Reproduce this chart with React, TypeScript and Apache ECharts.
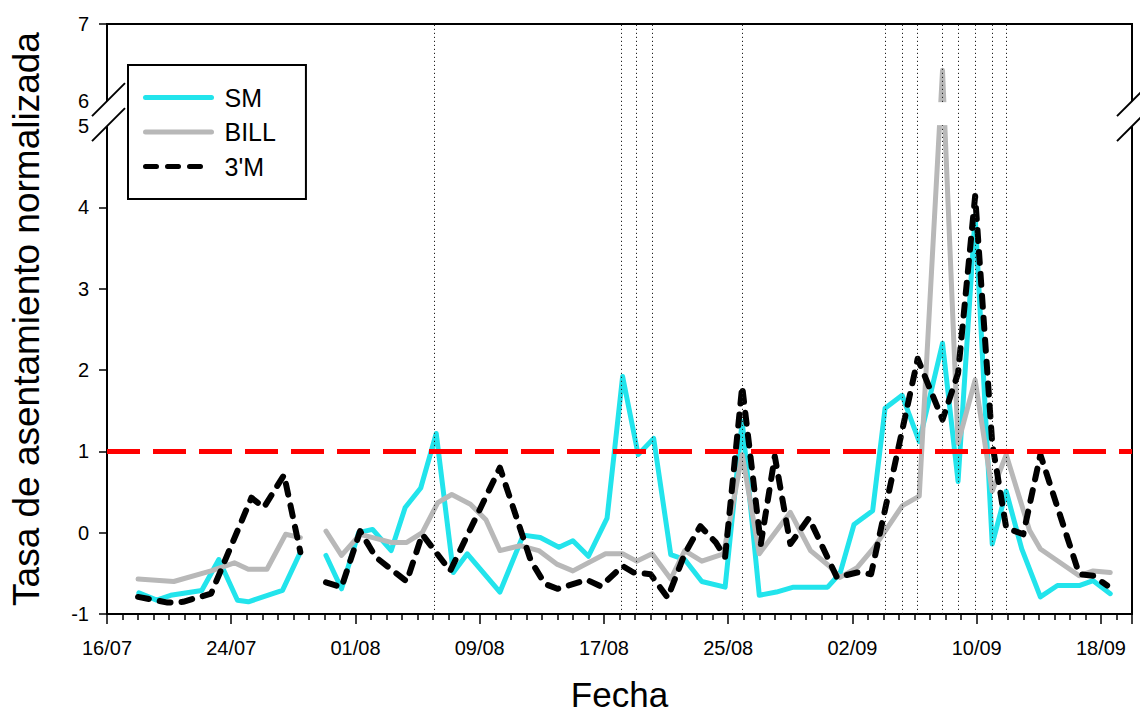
import React, { useEffect, useRef } from "react";
import * as echarts from "echarts";

// ---- data (day 0 = 16/07) ----
const xTickDays = [0, 8, 16, 24, 32, 40, 48, 56, 64];
const xTickLabels = ["16/07", "24/07", "01/08", "09/08", "17/08", "25/08", "02/09", "10/09", "18/09"];
const yTickValues = [-1, 0, 1, 2, 3, 4, 5, 6, 7];
const eventDays = [21.1, 33.1, 34.1, 35.1, 40.9, 50.1, 51.2, 52.2, 53.8, 54.8, 55.9, 57.0, 57.9];
const threshold = 1;

const smData: [number, number | null][] = [
  [2.05, -0.74], [3.2, -0.83], [4.1, -0.77], [6.1, -0.71], [7.2, -0.33], [8.4, -0.83], [9.1, -0.85],
  [11.3, -0.71], [12.45, -0.24], [13.2, null],
  [14.1, -0.28], [15.1, -0.69], [16.2, 0.0], [17.1, 0.04], [18.3, -0.22], [19.2, 0.31], [20.2, 0.55],
  [21.2, 1.22], [22.3, -0.49], [23.2, -0.26], [25.3, -0.73], [26.8, -0.03], [27.9, -0.06], [29.1, -0.18],
  [30.0, -0.1], [31.0, -0.29], [32.2, 0.18], [33.2, 1.92], [34.2, 0.96], [35.2, 1.16], [36.3, -0.27],
  [37.2, -0.33], [38.3, -0.6], [39.8, -0.67], [40.9, 1.37], [42.0, -0.77], [43.1, -0.73], [44.2, -0.67],
  [45.5, -0.67], [46.4, -0.67], [47.2, -0.5], [48.1, 0.1], [49.3, 0.27], [50.1, 1.53], [51.2, 1.69],
  [52.3, 1.12], [53.8, 2.33], [54.8, 0.63], [55.9, 3.9], [57.0, -0.14], [57.9, 0.51], [58.9, -0.2],
  [60.1, -0.79], [61.2, -0.65], [62.6, -0.65], [63.5, -0.59], [64.6, -0.75],
];

const billData: [number, number | null][] = [
  [2, -0.57], [4.3, -0.6], [6.7, -0.47], [8.2, -0.37], [9.1, -0.45], [10.3, -0.45], [11.5, -0.02],
  [12.45, -0.06], [13.2, null],
  [14.1, 0.02], [15.1, -0.28], [16.3, -0.02], [18.3, -0.12], [19.3, -0.12], [20.3, 0.0], [21.3, 0.37],
  [22.2, 0.47], [23.4, 0.35], [24.4, 0.16], [25.3, -0.22], [26.6, -0.16], [27.8, -0.22], [29.0, -0.39],
  [30.0, -0.47], [32.1, -0.26], [33.2, -0.26], [34.1, -0.35], [35.1, -0.26], [36.3, -0.57], [37.2, -0.22],
  [38.3, -0.35], [39.7, -0.26], [40.9, 0.96], [42.0, -0.26], [44.0, 0.25], [45.3, -0.22], [46.5, -0.41],
  [47.2, -0.55], [48.3, -0.43], [49.4, -0.18], [51.2, 0.33], [52.3, 0.45], [53.8, 6.4], [54.8, 1.1],
  [55.9, 1.88], [57.0, 0.51], [57.9, 0.96], [59.4, 0.03], [60.1, -0.2], [62.6, -0.53], [63.5, -0.47],
  [64.6, -0.49],
];

const tmData: [number, number | null][] = [
  [2, -0.79], [3.1, -0.83], [3.9, -0.86], [4.9, -0.85], [6.7, -0.75], [9.3, 0.43], [10.1, 0.31],
  [11.4, 0.71], [12.45, -0.24], [13.2, null],
  [14.1, -0.61], [15.1, -0.67], [16.3, 0.02], [17.3, -0.3], [18.3, -0.45], [19.3, -0.6], [20.3, -0.02],
  [22.1, -0.47], [25.3, 0.8], [27.3, -0.35], [28.2, -0.63], [29.0, -0.69], [30.9, -0.58], [31.8, -0.66],
  [33.2, -0.41], [33.9, -0.49], [35.0, -0.51], [36.1, -0.8], [37.2, -0.26], [38.2, 0.08], [39.2, -0.12],
  [39.8, -0.3], [40.9, 1.8], [42.1, -0.14], [43.0, 0.94], [44.0, -0.14], [45.2, 0.18], [47.0, -0.55],
  [48.3, -0.49], [49.2, -0.51], [52.2, 2.14], [53.8, 1.39], [54.8, 1.96], [55.9, 4.14], [57.0, 1.1],
  [57.9, 0.06], [59.0, -0.02], [60.1, 0.96], [62.6, -0.51], [63.5, -0.53], [64.4, -0.65],
];

// ---- broken y axis (5 .. 6 compressed) ----
const BREAK_LO = 5;
const BREAK_HI = 6;
const T6 = 5.307;
const K_UP = 0.949;
const toAxis = (v: number) => (v <= BREAK_LO ? v : T6 + (v - BREAK_HI) * K_UP);
const T7 = toAxis(7);

const FONT = "'Liberation Sans', Arial, Helvetica, sans-serif";
const CYAN = "#22e4ec";
const GREY = "#b8b8b8";
const BLACK = "#000000";
const RED = "#ff0000";

const conv = (arr: [number, number | null][]) =>
  arr.map(([d, v]) => (v == null ? [d, "-"] : [d, toAxis(v)]));

export default function App() {
  const ref = useRef<HTMLDivElement>(null);
  useEffect(() => {
    document.body.style.margin = "0";
    const chart = echarts.init(ref.current!, null, { renderer: "svg", width: 1140, height: 717 });
    chart.setOption({
      animation: false,
      textStyle: { fontFamily: FONT },
      grid: {
        left: 107, right: 8, top: 24, bottom: 100,
        show: true, borderColor: "#000", borderWidth: 2, backgroundColor: "transparent",
      },
      legend: {
        data: ["SM", "BILL", "3'M"],
        orient: "vertical",
        left: 128,
        top: 65,
        backgroundColor: "#fff",
        borderColor: "#000",
        borderWidth: 2,
        padding: [20, 30, 20, 15],
        itemGap: 9.5,
        itemWidth: 66,
        itemHeight: 25,
        selectedMode: false,
        itemStyle: { opacity: 0, borderWidth: 0 },
        lineStyle: { width: 5 },
        textStyle: { fontSize: 25, color: "#000", lineHeight: 25, fontFamily: FONT, padding: [0, 0, 0, 8] },
      },
      xAxis: {
        type: "value",
        min: 0,
        max: 66,
        interval: 8,
        axisLine: { show: true, onZero: false, lineStyle: { color: "#000", width: 2 } },
        axisTick: { show: true, length: 10, lineStyle: { color: "#000", width: 1.5 } },
        minorTick: { show: true, splitNumber: 8, length: 6, lineStyle: { color: "#000", width: 1.5 } },
        splitLine: { show: false },
        axisLabel: {
          fontSize: 20,
          color: "#000",
          margin: 24,
          fontFamily: FONT,
          formatter: (v: number) => {
            const i = xTickDays.indexOf(v);
            return i >= 0 ? xTickLabels[i] : "";
          },
        },
        name: "Fecha",
        nameLocation: "middle",
        nameGap: 63,
        nameTextStyle: { fontSize: 35, color: "#000", fontFamily: FONT },
      },
      yAxis: {
        type: "value",
        min: -1,
        max: T7,
        axisLine: { show: true, onZero: false, lineStyle: { color: "#000", width: 2 } },
        axisTick: {
          show: true,
          length: 8,
          customValues: yTickValues.filter((v) => v !== BREAK_LO && v !== BREAK_HI).map(toAxis),
          lineStyle: { color: "#000", width: 1.5 },
        },
        splitLine: { show: false },
        axisLabel: {
          customValues: yTickValues.map(toAxis),
          fontSize: 20,
          color: "#000",
          margin: 18,
          fontFamily: FONT,
          formatter: (t: number) => {
            const v = yTickValues.find((yv) => Math.abs(toAxis(yv) - t) < 1e-6);
            return v === undefined ? "" : String(v);
          },
        },
        name: "Tasa de asentamiento normalizada",
        nameLocation: "middle",
        nameGap: 62,
        nameRotate: 90,
        nameTextStyle: { fontSize: 37, color: "#000", fontFamily: FONT },
      },
      series: [
        {
          name: "SM",
          type: "line",
          data: conv(smData),
          symbol: "none",
          showSymbol: false,
          connectNulls: false,
          lineStyle: { color: CYAN, width: 5, join: "round", cap: "round" },
          itemStyle: { color: CYAN },
          z: 2,
          markLine: {
            silent: true,
            symbol: ["none", "none"],
            label: { show: false },
            lineStyle: { color: "#222", width: 1, type: [1.2, 2.8] },
            data: eventDays.map((d) => ({ xAxis: d })),
          },
        },
        {
          name: "BILL",
          type: "line",
          data: conv(billData),
          symbol: "none",
          showSymbol: false,
          connectNulls: false,
          lineStyle: { color: GREY, width: 5, join: "round", cap: "round" },
          itemStyle: { color: GREY },
          z: 3,
        },
        {
          name: "3'M",
          type: "line",
          data: conv(tmData),
          symbol: "none",
          showSymbol: false,
          connectNulls: false,
          lineStyle: { color: BLACK, width: 6, type: [11, 11], join: "round", cap: "round" },
          itemStyle: { color: BLACK },
          z: 4,
          markLine: {
            silent: true,
            symbol: ["none", "none"],
            label: { show: false },
            lineStyle: { color: RED, width: 5, type: [33, 13] },
            data: [{ yAxis: threshold }],
          },
        },
      ],
    });

    const px = (d: number, t: number) => chart.convertToPixel({ gridIndex: 0 }, [d, t]) as number[];
    const xl = px(0, 0)[0];
    const xr = px(66, 0)[0];
    const y5 = px(0, BREAK_LO)[1];
    const y6 = px(0, T6)[1];
    const gapA = px(53.4, T6);
    const gapB = px(54.2, BREAK_LO);
    const slash = (ax: number, y: number) => ({
      type: "line",
      z: 101,
      shape: { x1: ax - 15, y1: y + 15, x2: ax + 18, y2: y - 18 },
      style: { stroke: "#000", lineWidth: 2 },
    });
    const whiteRect = (x: number, y: number, w: number, h: number) => ({
      type: "rect",
      z: 100,
      shape: { x, y, width: w, height: h },
      style: { fill: "#fff" },
    });
    chart.setOption({
      graphic: [
        whiteRect(xl - 4, y6, 8, y5 - y6),
        whiteRect(xr - 4, y6, 8, y5 - y6),
        whiteRect(gapA[0], gapA[1] + 1, gapB[0] - gapA[0], gapB[1] - gapA[1] - 2),
        slash(xl, y6),
        slash(xl, y5),
        slash(xr, y6),
        slash(xr, y5),
      ],
    });
    return () => chart.dispose();
  }, []);
  return <div ref={ref} style={{ width: 1140, height: 717, position: "absolute", left: 0, top: 0 }} />;
}
